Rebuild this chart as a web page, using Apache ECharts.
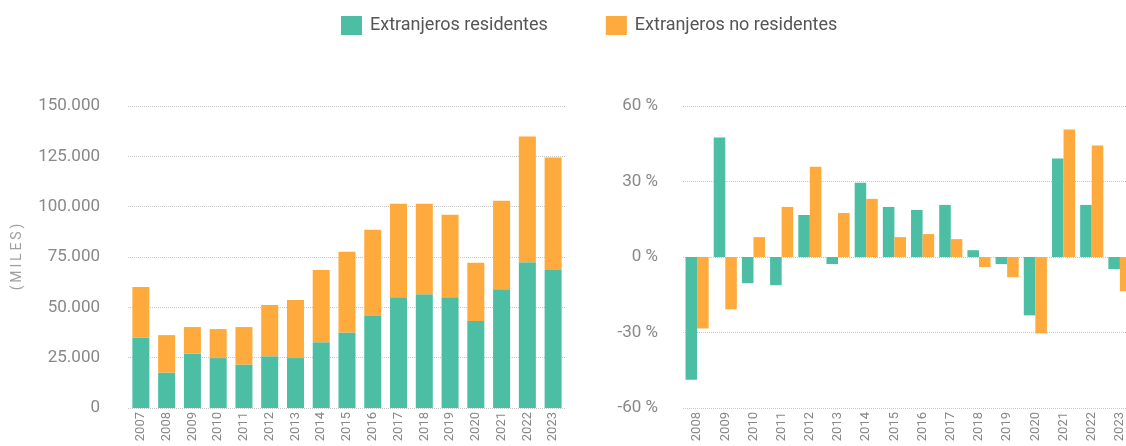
<!DOCTYPE html>
<html>
<head>
<meta charset="utf-8">
<script src="https://cdn.jsdelivr.net/npm/echarts@6/dist/echarts.min.js"></script>
<style>html,body{margin:0;padding:0;background:#fff}#c{width:1126px;height:446px}</style>
</head>
<body>
<div id="c"></div>
<script>
const years = ['2007','2008','2009','2010','2011','2012','2013','2014','2015','2016','2017','2018','2019','2020','2021','2022','2023'];
const residentes = [35000,17600,27100,24800,21600,25700,24800,32600,37500,45700,55000,56500,55000,43200,59000,72400,68600];
const noResidentes = [25100,18600,13100,14400,18600,25500,28900,36000,40100,42800,46500,45000,41000,28900,44000,62500,55800];
const yearsVar = ['2008','2009','2010','2011','2012','2013','2014','2015','2016','2017','2018','2019','2020','2021','2022','2023'];
const varResidentes = [-48.8,47.5,-10.4,-11.2,16.7,-2.8,29.5,19.9,18.7,20.7,2.7,-2.8,-23.2,39.1,20.7,-4.8];
const varNoResidentes = [-28.4,-20.8,7.9,19.9,35.9,17.5,23.1,7.9,9.1,7.1,-4.0,-8.0,-30.4,50.7,44.3,-13.6];
const leftTicks = [0,25000,50000,75000,100000,125000,150000];
const rightTicks = [-60,-30,0,30,60];
const unitLabel = '(MILES)';

const GREEN = '#4BBEA4', ORANGE = '#FFAA3C';
const FONT = 'Roboto';
const fmtThousands = v => String(v).replace(/\B(?=(\d{3})+(?!\d))/g, '.');
const spaced = s => s.split('').join('\u2009');

const chart = echarts.init(document.getElementById('c'));
chart.setOption({
  animation: false,
  textStyle: {fontFamily: FONT},
  color: [GREEN, ORANGE],
  legend: {
    top: 11, left: 336,
    itemWidth: 21, itemHeight: 19, itemGap: 58,
    icon: 'rect',
    textStyle: {fontSize: 18, color: '#555', fontFamily: FONT, padding: [0,0,0,3]},
    data: ['Extranjeros residentes', 'Extranjeros no residentes']
  },
  grid: [
    {left: 128, width: 438, top: 106, height: 302, outerBoundsMode: 'none', containLabel: false},
    {left: 683, width: 451, top: 106, height: 302, outerBoundsMode: 'none', containLabel: false}
  ],
  xAxis: [
    {type: 'category', gridIndex: 0, data: years,
     axisLine: {show: false}, axisTick: {show: false},
     axisLabel: {rotate: 90, fontSize: 13, color: '#888', margin: 4, interval: 0, fontFamily: FONT}},
    {type: 'category', gridIndex: 1, data: yearsVar,
     axisLine: {show: false}, axisTick: {show: false},
     axisLabel: {rotate: 90, fontSize: 13, color: '#888', margin: 4, interval: 0, fontFamily: FONT}}
  ],
  yAxis: [
    {type: 'value', gridIndex: 0, min: leftTicks[0], max: leftTicks[leftTicks.length-1], interval: 25000,
     name: spaced(unitLabel), nameLocation: 'middle', nameGap: 104, nameRotate: 90,
     nameTextStyle: {color: '#a0a0a0', fontSize: 14, fontFamily: FONT},
     axisLine: {show: false}, axisTick: {show: false},
     axisLabel: {fontSize: 17, color: '#888', margin: 28, formatter: v => fmtThousands(v), fontFamily: FONT},
     splitLine: {lineStyle: {color: '#c8c8c8', type: 'dotted', width: 1}}},
    {type: 'value', gridIndex: 1, min: rightTicks[0], max: rightTicks[rightTicks.length-1], interval: 30,
     axisLine: {show: false}, axisTick: {show: false},
     axisLabel: {fontSize: 17, color: '#888', margin: 25, formatter: v => v + ' %', fontFamily: FONT},
     splitLine: {lineStyle: {color: '#c8c8c8', type: 'dotted', width: 1}}}
  ],
  series: [
    {name: 'Extranjeros residentes', type: 'bar', stack: 'tot', xAxisIndex: 0, yAxisIndex: 0,
     data: residentes, barCategoryGap: '34%', itemStyle: {color: GREEN}},
    {name: 'Extranjeros no residentes', type: 'bar', stack: 'tot', xAxisIndex: 0, yAxisIndex: 0,
     data: noResidentes, barCategoryGap: '34%', itemStyle: {color: ORANGE}},
    {name: 'Extranjeros residentes', type: 'bar', xAxisIndex: 1, yAxisIndex: 1,
     data: varResidentes, barGap: '0%', barCategoryGap: '18%', itemStyle: {color: GREEN}},
    {name: 'Extranjeros no residentes', type: 'bar', xAxisIndex: 1, yAxisIndex: 1,
     data: varNoResidentes, barGap: '0%', barCategoryGap: '18%', itemStyle: {color: ORANGE}}
  ]
});
</script>
</body>
</html>
